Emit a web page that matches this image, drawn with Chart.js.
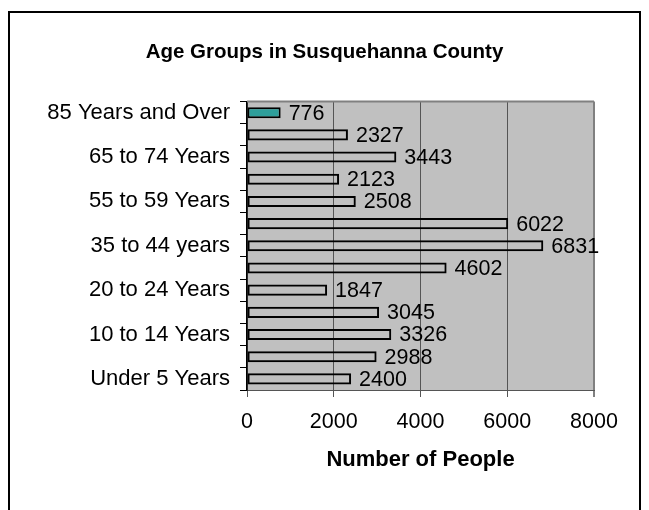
<!DOCTYPE html>
<html>
<head>
<meta charset="utf-8">
<script src="https://cdn.jsdelivr.net/npm/chart.js@4.4.1/dist/chart.umd.min.js"></script>
<style>
  html, body { margin: 0; padding: 0; background: #ffffff; }
  #wrap { position: relative; width: 649px; height: 510px; }
</style>
</head>
<body>
<div id="wrap"><canvas id="c" width="649" height="510"></canvas></div>
<script>
// ---- Data ----
const categories = [
  "Under 5 Years", "5 to 9 Years", "10 to 14 Years", "15 to 19 Years",
  "20 to 24 Years", "25 to 34 Years", "35 to 44 years", "45 to 54 Years",
  "55 to 59 Years", "60 to 64 Years", "65 to 74 Years", "75 to 84 Years",
  "85 Years and Over"
];
const people = [2400, 2988, 3326, 3045, 1847, 4602, 6831, 6022, 2508, 2123, 3443, 2327, 776];
const xTicks = [0, 2000, 4000, 6000, 8000];
const chartTitle = "Age Groups in Susquehanna County";
const xTitle = "Number of People";

const FONT = "'Liberation Sans', Arial, Helvetica, sans-serif";

const framePlugin = {
  id: 'frame',
  beforeDraw(chart) {
    const ctx = chart.ctx;
    const a = chart.chartArea;
    ctx.save();
    ctx.fillStyle = '#ffffff';
    ctx.fillRect(0, 0, chart.width, chart.height);
    ctx.strokeStyle = '#000000';
    ctx.lineWidth = 2;
    ctx.beginPath();
    ctx.moveTo(9, chart.height + 5);
    ctx.lineTo(9, 12);
    ctx.lineTo(640, 12);
    ctx.lineTo(640, chart.height + 5);
    ctx.stroke();
    ctx.fillStyle = '#c0c0c0';
    ctx.fillRect(a.left, a.top, a.right - a.left, a.bottom - a.top);
    ctx.restore();
  },
  beforeDatasetsDraw(chart) {
    const ctx = chart.ctx;
    const a = chart.chartArea;
    ctx.save();
    ctx.strokeStyle = '#808080';
    ctx.lineWidth = 2;
    ctx.beginPath();
    ctx.moveTo(a.left, a.top);
    ctx.lineTo(a.right, a.top);
    ctx.stroke();
    ctx.restore();
  }
};

const labelPlugin = {
  id: 'valueLabels',
  afterDatasetsDraw(chart) {
    const ctx = chart.ctx;
    const meta = chart.getDatasetMeta(0);
    ctx.save();
    ctx.font = '21.5px ' + FONT;
    ctx.fillStyle = '#000000';
    ctx.textAlign = 'left';
    ctx.textBaseline = 'middle';
    meta.data.forEach((bar, i) => {
      ctx.fillText(String(chart.data.datasets[0].data[i]), bar.x + 8, bar.y + 1);
    });
    ctx.restore();
  }
};

new Chart(document.getElementById('c'), {
  type: 'bar',
  data: {
    labels: categories,
    datasets: [{
      data: people,
      backgroundColor: (c) => c.dataIndex === categories.length - 1 ? '#2e9f9b' : 'rgba(0,0,0,0)',
      borderColor: '#000000',
      borderWidth: 2,
      borderSkipped: false,
      barPercentage: 0.5,
      categoryPercentage: 1.0
    }]
  },
  options: {
    indexAxis: 'y',
    responsive: false,
    animation: false,
    devicePixelRatio: 1,
    layout: { padding: 0 },
    plugins: {
      legend: { display: false },
      tooltip: { enabled: false },
      title: {
        display: true,
        text: chartTitle,
        color: '#000000',
        font: { family: FONT, size: 20.5, weight: 'bold', lineHeight: 1.2 },
        padding: { top: 40, bottom: 37 }
      }
    },
    scales: {
      x: {
        type: 'linear',
        min: 0,
        max: 8000,
        afterBuildTicks: (s) => { s.ticks = xTicks.map(v => ({ value: v })); },
        afterFit: (s) => { s.height = 120; s.paddingRight = 55; },
        ticks: {
          color: '#000000',
          font: { family: FONT, size: 21.5 },
          padding: 12,
          maxRotation: 0,
          callback: (v) => String(v)
        },
        grid: {
          color: (c) => c.tick && c.tick.value === 8000 ? '#808080' : '#555555',
          lineWidth: (c) => c.tick && c.tick.value === 8000 ? 2 : 1,
          tickLength: 7,
          drawTicks: true
        },
        border: { display: true, color: '#555555', width: 1 },
        title: {
          display: true,
          text: xTitle,
          color: '#000000',
          font: { family: FONT, size: 22, weight: 'bold', lineHeight: 1.2 },
          padding: { top: 0, bottom: 37 }
        }
      },
      y: {
        type: 'category',
        reverse: true,
        afterFit: (s) => { s.width = 247; },
        ticks: {
          autoSkip: false,
          color: '#000000',
          font: { family: FONT, size: 22 },
          padding: 10,
          callback: function (value, index) {
            return index % 2 === 0 ? this.getLabelForValue(value) : '';
          }
        },
        grid: {
          offset: true,
          drawOnChartArea: false,
          drawTicks: true,
          tickLength: 7,
          color: '#000000'
        },
        border: { display: true, color: '#000000', width: 1.5 }
      }
    }
  },
  plugins: [framePlugin, labelPlugin]
});
</script>
</body>
</html>
